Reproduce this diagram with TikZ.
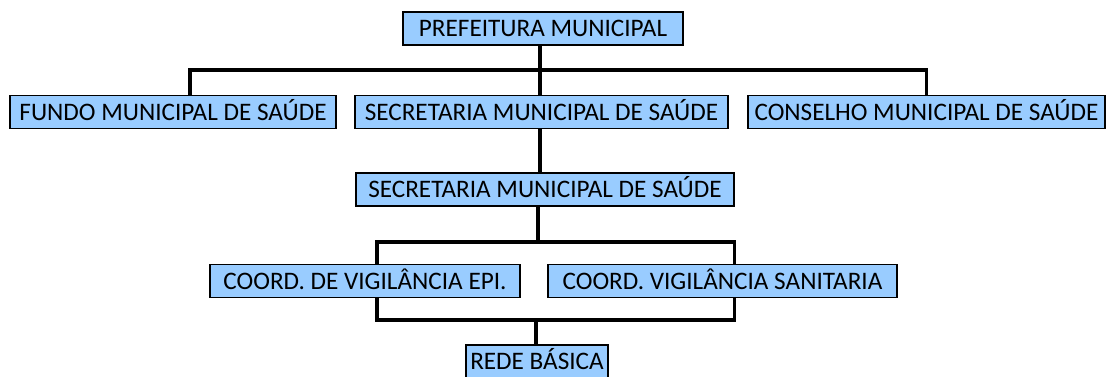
\documentclass[tikz,border=0pt]{standalone}
\usepackage{fontspec}
\setmainfont{Carlito}
\usetikzlibrary{positioning}
\definecolor{boxblue}{RGB}{153,204,255}

\begin{document}
\begin{tikzpicture}[x=1pt,y=-1pt,
  orgbox/.style={draw=black,line width=1.7pt,fill=boxblue,inner sep=0pt,
    minimum height=33pt,text height=16.4pt,text depth=0pt,
    font=\fontsize{25.2}{25.2}\selectfont},
  conn/.style={line width=3.5pt}]
  \useasboundingbox (0,0) rectangle (1108,376);
  % boxes
  \node[orgbox,minimum width=280pt] (pref) at (543,28.5) {PREFEITURA MUNICIPAL};
  \node[orgbox,minimum width=326pt] (fundo) at (173,112) {FUNDO MUNICIPAL DE SAÚDE};
  \node[orgbox,minimum width=373pt] (sec) at (541.5,112) {SECRETARIA MUNICIPAL DE SAÚDE};
  \node[orgbox,minimum width=357pt] (cons) at (926.5,112) {CONSELHO MUNICIPAL DE SAÚDE};
  \node[orgbox,minimum width=378pt] (sec2) at (545,189.5) {SECRETARIA MUNICIPAL DE SAÚDE};
  \node[orgbox,minimum width=310pt] (epi) at (365,281) {COORD. DE VIGILÂNCIA EPI.};
  \node[orgbox,minimum width=349pt] (sani) at (722.5,281) {COORD. VIGILÂNCIA SANITARIA};
  \node[orgbox,minimum width=142pt] (rede) at (537,361.5) {REDE BÁSICA};
  % junctions
  \coordinate (jtop) at (540,70);
  \coordinate (jmid) at (538,242);
  \coordinate (jlow) at (536,320);
  % lines
  \draw[conn] (pref.south -| jtop) -- (sec.north -| jtop);
  \draw[conn] ([xshift=17pt]fundo.north) |- (jtop) -| (cons.north);
  \draw[conn] (sec.south -| jtop) -- (sec2.north -| jtop);
  \draw[conn] (sec2.south -| jmid) -- (jmid);
  \draw[conn] ([xshift=12pt]epi.north) |- (jmid) -| ([xshift=12pt]sani.north);
  \draw[conn] ([xshift=12pt]epi.south) |- (jlow) -| ([xshift=12pt]sani.south);
  \draw[conn] (jlow) -- (rede.north -| jlow);
\end{tikzpicture}
\end{document}
